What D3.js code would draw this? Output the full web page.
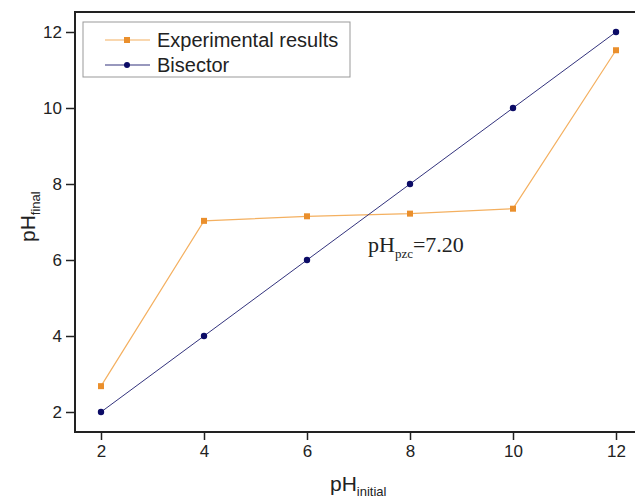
<!DOCTYPE html>
<html>
<head>
<meta charset="utf-8">
<script src="https://cdn.jsdelivr.net/npm/d3@7"></script>
<style>
  body { margin: 0; background: #fff; }
  text { font-family: "Liberation Sans", Arial, sans-serif; fill: #222; }
</style>
</head>
<body>
<div id="wrapper"></div>
<script>
// data
const phInitial = [2, 4, 6, 8, 10, 12]
const experimental = [2.68, 7.03, 7.15, 7.22, 7.35, 11.52]
const bisector = [2, 4, 6, 8, 10, 12]
const tickValues = [2, 4, 6, 8, 10, 12]

const dimensions = {
  width: 635,
  height: 500,
  margin: { top: 12, left: 75 },
  boundedWidth: 590,
  boundedHeight: 420,
}

const svg = d3.select("#wrapper")
  .append("svg")
    .attr("width", dimensions.width)
    .attr("height", dimensions.height)

const bounds = svg.append("g")
    .attr("transform", `translate(${dimensions.margin.left},${dimensions.margin.top})`)

// scales
const xScale = d3.scaleLinear()
  .domain([2, 12])
  .range([26, 541])

const yScale = d3.scaleLinear()
  .domain([2, 12])
  .range([400, 20])

// frame (right edge runs past the window)
bounds.append("rect")
    .attr("width", dimensions.boundedWidth)
    .attr("height", dimensions.boundedHeight)
    .attr("fill", "none")
    .attr("stroke", "#222")
    .attr("stroke-width", 2)

// axes
const xAxis = bounds.append("g")
    .attr("transform", `translate(0,${dimensions.boundedHeight})`)
  .call(d3.axisBottom(xScale).tickValues(tickValues).tickSize(8).tickPadding(5))
xAxis.select(".domain").remove()

const yAxis = bounds.append("g")
  .call(d3.axisLeft(yScale).tickValues(tickValues).tickSize(9).tickPadding(4))
yAxis.select(".domain").remove()

svg.selectAll(".tick line").attr("stroke", "#222").attr("stroke-width", 1.5)
svg.selectAll(".tick text").style("font-size", "17px").attr("fill", "#222")

// axis labels
const xLabel = svg.append("text")
    .attr("x", 330)
    .attr("y", 491)
    .style("font-size", "21px")
xLabel.append("tspan").text("pH")
xLabel.append("tspan").attr("dy", 5).style("font-size", "13px").text("initial")

const yLabel = svg.append("text")
    .attr("transform", "translate(35,242) rotate(-90)")
    .style("font-size", "21px")
yLabel.append("tspan").text("pH")
yLabel.append("tspan").attr("dy", 5).style("font-size", "13px").text("final")

// lines
const lineGen = values => d3.line()
  .x((d, i) => xScale(phInitial[i]))
  .y(d => yScale(d))(values)

const orange = "#f4b060"
const orangeMark = "#ea8f2c"
const navy = "#33337d"
const navyMark = "#0b0b66"

bounds.append("path")
    .attr("d", lineGen(experimental))
    .attr("fill", "none")
    .attr("stroke", orange)
    .attr("stroke-width", 1.2)

bounds.append("path")
    .attr("d", lineGen(bisector))
    .attr("fill", "none")
    .attr("stroke", navy)
    .attr("stroke-width", 1)

bounds.selectAll(".exp")
  .data(experimental)
  .join("rect")
    .attr("x", (d, i) => xScale(phInitial[i]) - 3)
    .attr("y", d => yScale(d) - 3)
    .attr("width", 6)
    .attr("height", 6)
    .attr("fill", orangeMark)

bounds.selectAll(".bis")
  .data(bisector)
  .join("circle")
    .attr("cx", (d, i) => xScale(phInitial[i]))
    .attr("cy", d => yScale(d))
    .attr("r", 3.2)
    .attr("fill", navyMark)

// annotation
const note = svg.append("text")
    .attr("x", 368)
    .attr("y", 252)
    .style("font-family", "'Liberation Serif', 'Times New Roman', serif")
    .style("font-size", "22px")
note.append("tspan").text("pH")
note.append("tspan").attr("dy", 6).style("font-size", "13px").text("pzc")
note.append("tspan").attr("dy", -6).text("=7.20")

// legend
const legend = svg.append("g")
    .attr("transform", "translate(83,22)")

legend.append("rect")
    .attr("width", 267)
    .attr("height", 55)
    .attr("fill", "#fff")
    .attr("stroke", "#999")
    .attr("stroke-width", 1)

const legendItems = [
  { label: "Experimental results", line: orange, mark: orangeMark, shape: "square" },
  { label: "Bisector", line: navy, mark: navyMark, shape: "circle" },
]

legendItems.forEach((item, i) => {
  const row = legend.append("g").attr("transform", `translate(0,${18 + i * 25})`)
  row.append("line")
      .attr("x1", 22).attr("x2", 67)
      .attr("stroke", item.line)
      .attr("stroke-width", 1.2)
  if (item.shape === "square") {
    row.append("rect").attr("x", 41).attr("y", -3).attr("width", 6).attr("height", 6).attr("fill", item.mark)
  } else {
    row.append("circle").attr("cx", 44).attr("r", 3).attr("fill", item.mark)
  }
  row.append("text")
      .attr("x", 74)
      .attr("y", 7)
      .style("font-size", "20px")
      .text(item.label)
})
</script>
</body>
</html>
